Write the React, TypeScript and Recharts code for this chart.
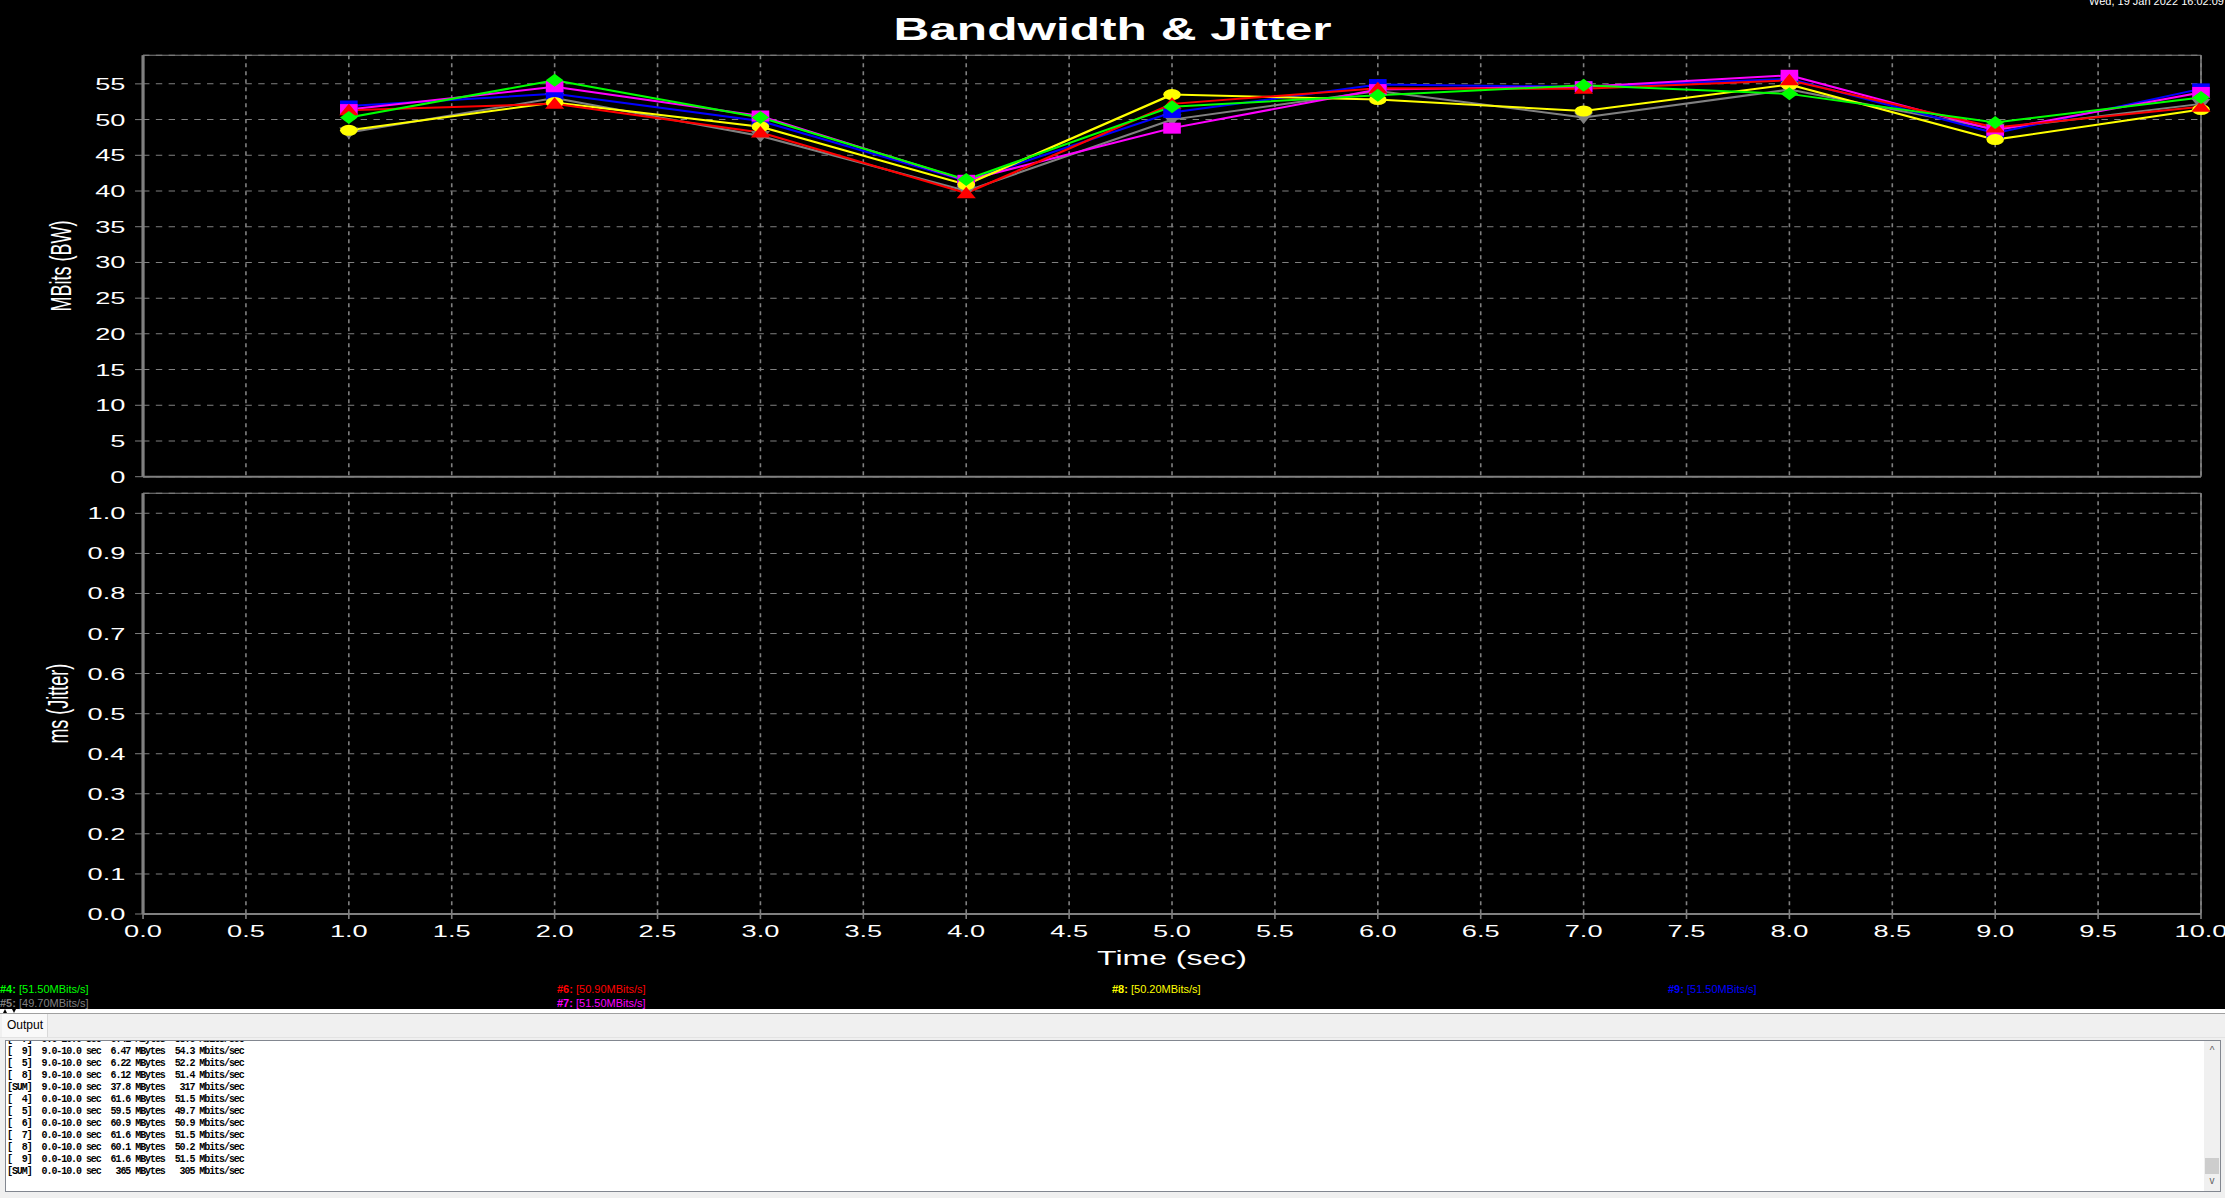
import { LineChart, Line, XAxis, YAxis, CartesianGrid, ReferenceLine } from 'recharts'

// the original screenshot is stretched ~1.6x horizontally, so the chart is drawn narrow and scaled
const STRETCH = 1.6
const W0 = 2225 / STRETCH

const times = [1, 2, 3, 4, 5, 6, 7, 8, 9, 10]
const bw4 = [50.3, 55.5, 50.3, 41.6, 51.8, 53.4, 54.8, 53.6, 49.6, 53.1]
const bw5 = [48.2, 53.0, 47.7, 40.0, 50.0, 54.0, 50.3, 54.2, 48.7, 52.2]
const bw6 = [51.3, 52.2, 48.2, 39.7, 52.2, 54.4, 54.3, 55.5, 48.9, 51.8]
const bw7 = [51.4, 54.6, 50.5, 41.5, 48.8, 54.2, 54.6, 56.2, 48.5, 53.8]
const bw8 = [48.5, 52.4, 49.0, 40.9, 53.5, 52.8, 51.2, 54.9, 47.2, 51.4]
const bw9 = [51.9, 53.6, 49.8, 41.4, 51.0, 54.9, 54.6, 55.7, 48.1, 54.3]

const xTicks = [0, 0.5, 1, 1.5, 2, 2.5, 3, 3.5, 4, 4.5, 5, 5.5, 6, 6.5, 7, 7.5, 8, 8.5, 9, 9.5, 10]
const bwTicks = [0, 5, 10, 15, 20, 25, 30, 35, 40, 45, 50, 55]
const jitterTicks = [0, 0.1, 0.2, 0.3, 0.4, 0.5, 0.6, 0.7, 0.8, 0.9, 1.0]

const outputLines = [
  '[  7]  9.0-10.0 sec  6.41 MBytes  53.8 Mbits/sec',
  '[  9]  9.0-10.0 sec  6.47 MBytes  54.3 Mbits/sec',
  '[  5]  9.0-10.0 sec  6.22 MBytes  52.2 Mbits/sec',
  '[  8]  9.0-10.0 sec  6.12 MBytes  51.4 Mbits/sec',
  '[SUM]  9.0-10.0 sec  37.8 MBytes   317 Mbits/sec',
  '[  4]  0.0-10.0 sec  61.6 MBytes  51.5 Mbits/sec',
  '[  5]  0.0-10.0 sec  59.5 MBytes  49.7 Mbits/sec',
  '[  6]  0.0-10.0 sec  60.9 MBytes  50.9 Mbits/sec',
  '[  7]  0.0-10.0 sec  61.6 MBytes  51.5 Mbits/sec',
  '[  8]  0.0-10.0 sec  60.1 MBytes  50.2 Mbits/sec',
  '[  9]  0.0-10.0 sec  61.6 MBytes  51.5 Mbits/sec',
  '[SUM]  0.0-10.0 sec   365 MBytes   305 Mbits/sec',
]

const rows = times.map((t, i) => ({
  t, bw4: bw4[i], bw5: bw5[i], bw6: bw6[i], bw7: bw7[i], bw8: bw8[i], bw9: bw9[i],
}))

// drawing order: last one ends up on top
const series = [
  { key: 'bw5', color: '#808080', shape: 'down' },
  { key: 'bw9', color: '#0000ff', shape: 'square' },
  { key: 'bw7', color: '#ff00ff', shape: 'square' },
  { key: 'bw8', color: '#ffff00', shape: 'circle' },
  { key: 'bw6', color: '#ff0000', shape: 'up' },
  { key: 'bw4', color: '#00ff00', shape: 'diamond' },
]

const legend = [
  { name: '#4:', avg: '51.50', color: '#00ff00', left: 0, top: 983 },
  { name: '#5:', avg: '49.70', color: '#808080', left: 0, top: 997 },
  { name: '#6:', avg: '50.90', color: '#ff0000', left: 557, top: 983 },
  { name: '#7:', avg: '51.50', color: '#ff00ff', left: 557, top: 997 },
  { name: '#8:', avg: '50.20', color: '#ffff00', left: 1112, top: 983 },
  { name: '#9:', avg: '51.50', color: '#0000ff', left: 1668, top: 983 },
]

const FONT = '"Liberation Sans", Arial, sans-serif'
const GRAY = '#808080'

function Marker({ cx, cy, shape, color }: any) {
  if (cx == null || cy == null) return null
  if (shape === 'circle') return <circle cx={cx} cy={cy} r={5.5} fill={color} />
  if (shape === 'square') return <rect x={cx - 5.5} y={cy - 5.5} width={11} height={11} fill={color} />
  if (shape === 'up') return <polygon points={`${cx},${cy - 6.5} ${cx + 6},${cy + 5} ${cx - 6},${cy + 5}`} fill={color} />
  if (shape === 'down') return <polygon points={`${cx},${cy + 6.5} ${cx + 6},${cy - 5} ${cx - 6},${cy - 5}`} fill={color} />
  return <polygon points={`${cx},${cy - 6.5} ${cx + 5.5},${cy} ${cx},${cy + 6.5} ${cx - 5.5},${cy}`} fill={color} />
}

const tickStyle = { fill: '#ffffff', fontSize: 17, fontFamily: FONT }

export default function App() {
  return (
    <div style={{ position: 'relative', width: 2225, height: 1198, overflow: 'hidden', background: '#000', fontFamily: FONT }}>
      <style>{'body{margin:0;background:#000;}'}</style>

      <div style={{ position: 'absolute', left: 0, top: 0, width: W0, height: 1009, transform: `scaleX(${STRETCH})`, transformOrigin: '0 0' }}>
        <div style={{ position: 'absolute', left: 0, top: 14, width: '100%', textAlign: 'center', color: '#fff', fontSize: 31, lineHeight: '31px', fontWeight: 'bold' }}>
          Bandwidth &amp; Jitter
        </div>

        <div style={{ position: 'absolute', left: 0, top: 0 }}>
          <LineChart width={W0} height={490} data={rows} margin={{ top: 55.3, right: 15, bottom: 13.3, left: 0 }}>
            <CartesianGrid stroke={GRAY} strokeDasharray="4 4" />
            <XAxis type="number" dataKey="t" domain={[0, 10]} ticks={xTicks} hide />
            <YAxis
              type="number" domain={[0, 59]} ticks={bwTicks} width={89.4} allowDataOverflow
              tick={tickStyle} tickSize={5} tickMargin={6}
              axisLine={{ stroke: GRAY, strokeWidth: 2 }} tickLine={{ stroke: GRAY }}
              label={{ value: 'MBits (BW)', angle: -90, position: 'insideLeft', offset: 38, fill: '#fff', fontSize: 18, fontFamily: FONT, style: { textAnchor: 'middle' } }}
            />
            <ReferenceLine y={59} stroke={GRAY} strokeWidth={1} />
            <ReferenceLine x={10} stroke={GRAY} strokeWidth={1} />
            <ReferenceLine y={0} stroke={GRAY} strokeWidth={2} />
            {series.map((s) => (
              <Line
                key={s.key}
                type="linear"
                dataKey={s.key}
                stroke={s.color}
                strokeWidth={2}
                dot={(p: any) => <Marker key={`${s.key}-${p.index}`} cx={p.cx} cy={p.cy} shape={s.shape} color={s.color} />}
                activeDot={false}
                isAnimationActive={false}
              />
            ))}
          </LineChart>
        </div>

        <div style={{ position: 'absolute', left: 0, top: 480 }}>
          <LineChart width={W0} height={529} data={rows} margin={{ top: 13.3, right: 15, bottom: 0, left: 0 }}>
            <CartesianGrid stroke={GRAY} strokeDasharray="4 4" />
            <XAxis
              type="number" dataKey="t" domain={[0, 10]} ticks={xTicks} height={95} allowDataOverflow
              tick={tickStyle} tickSize={5} tickMargin={6}
              tickFormatter={(v: number) => v.toFixed(1)}
              axisLine={{ stroke: GRAY, strokeWidth: 2 }} tickLine={{ stroke: GRAY }}
              label={{ value: 'Time (sec)', position: 'insideBottom', offset: 44, fill: '#fff', fontSize: 20, fontFamily: FONT }}
            />
            <YAxis
              type="number" domain={[0, 1.05]} ticks={jitterTicks} width={89.4} allowDataOverflow
              tick={tickStyle} tickSize={5} tickMargin={6}
              tickFormatter={(v: number) => v.toFixed(1)}
              axisLine={{ stroke: GRAY, strokeWidth: 2 }} tickLine={{ stroke: GRAY }}
              label={{ value: 'ms (Jitter)', angle: -90, position: 'insideLeft', offset: 36, fill: '#fff', fontSize: 18, fontFamily: FONT, style: { textAnchor: 'middle' } }}
            />
            <ReferenceLine y={1.05} stroke={GRAY} strokeWidth={1} ifOverflow="extendDomain" />
            <ReferenceLine x={10} stroke={GRAY} strokeWidth={1} />
          </LineChart>
        </div>
      </div>

      <div style={{ position: 'absolute', left: 2089, top: -5, color: '#fff', fontSize: 11, lineHeight: '13px', whiteSpace: 'nowrap' }}>
        Wed, 19 Jan 2022 16:02:09
      </div>

      {legend.map((l) => (
        <div key={l.name} style={{ position: 'absolute', left: l.left, top: l.top, color: l.color, fontSize: 11, lineHeight: '13px', whiteSpace: 'nowrap' }}>
          <b>{l.name}</b> [{l.avg}MBits/s]
        </div>
      ))}

      <div style={{ position: 'absolute', left: 0, top: 1009, width: 2225, height: 4, background: '#fff' }}>
        <svg width={20} height={4} style={{ position: 'absolute', left: 2, top: 0 }}>
          <polygon points="1,4 3,0 5,4" fill="#000" />
          <polygon points="10,0 14,0 12,4" fill="#000" />
        </svg>
      </div>
      <div style={{ position: 'absolute', left: 0, top: 1013, width: 2225, height: 185, background: '#f0f0f0', borderTop: '1px solid #a0a0a0' }}>
        <div style={{ position: 'absolute', left: 2, top: 0, width: 46, height: 23, background: '#f9f9f9', borderRight: '1px solid #d9d9d9', fontSize: 12, lineHeight: '23px', color: '#000', paddingLeft: 5, boxSizing: 'border-box' }}>
          Output
        </div>
        <div style={{ position: 'absolute', left: 0, top: 23, width: 2225, height: 1, background: '#e3e3e3' }} />
        <div style={{ position: 'absolute', left: 5, top: 26, width: 2216, height: 152, background: '#fff', border: '1px solid #828790', boxSizing: 'border-box', overflow: 'hidden' }}>
          <div style={{ position: 'absolute', left: 1, top: -7, fontFamily: '"Liberation Mono", monospace', fontWeight: 'bold', fontSize: 10, letterSpacing: '-1.07px', lineHeight: '12px', color: '#000', whiteSpace: 'pre' }}>
            {outputLines.map((line, i) => <div key={i}>{line}</div>)}
          </div>
          <div style={{ position: 'absolute', right: 0, top: 0, width: 16, height: 150, background: '#f0f0f0' }}>
            <div style={{ position: 'absolute', top: 4, width: 16, textAlign: 'center', fontSize: 10, color: '#606060' }}>^</div>
            <div style={{ position: 'absolute', left: 1, top: 117, width: 14, height: 16, background: '#cdcdcd' }} />
            <div style={{ position: 'absolute', top: 134, width: 16, textAlign: 'center', fontSize: 10, color: '#606060' }}>v</div>
          </div>
        </div>
      </div>
    </div>
  )
}
